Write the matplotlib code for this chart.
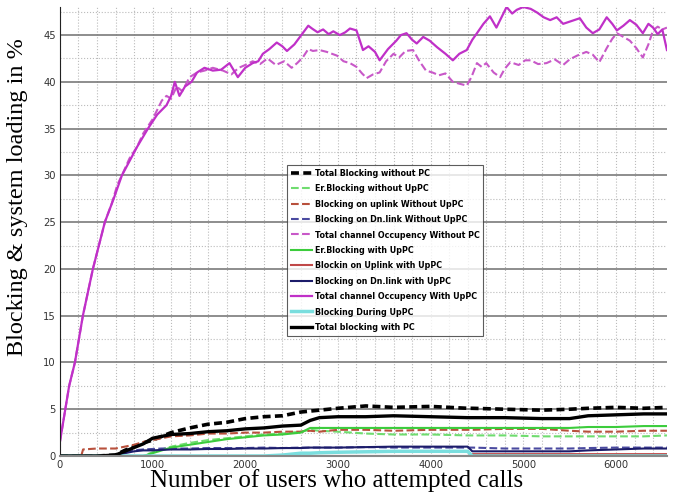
import matplotlib
matplotlib.use("Agg")
import matplotlib.pyplot as plt
from matplotlib.ticker import MultipleLocator

# total channel occupancy, with UpPC (solid) and without PC (dashed)
x_occ_w = [0, 50, 100, 162, 248, 356, 485, 580, 669, 750, 830, 950, 1050, 1150, 1200, 1240, 1290,
           1350, 1420, 1480, 1560, 1650, 1740, 1830, 1920, 2000, 2080, 2140, 2190, 2260, 2340, 2400,
           2450, 2530, 2620, 2680, 2720, 2780, 2840, 2900, 2950, 3020, 3080, 3130, 3200, 3270, 3330,
           3400, 3450, 3540, 3630, 3680, 3740, 3800, 3850, 3920, 3990, 4070, 4160, 4240, 4310, 4390,
           4450, 4500, 4570, 4640, 4710, 4770, 4820, 4880, 4930, 5000, 5080, 5150, 5220, 5290, 5360,
           5430, 5520, 5610, 5680, 5750, 5820, 5900, 5960, 6010, 6080, 6150, 6220, 6290, 6350, 6400,
           6450, 6500, 6550]
occ_w = [1.5, 4.5, 7.5, 10, 15, 20, 25, 27.5, 30, 31.5, 33, 35, 36.5, 37.5, 38.5, 40, 38.5,
         39.5, 40, 41, 41.5, 41.2, 41.3, 42, 40.5, 41.5, 42, 42.2, 43, 43.5, 44.2, 43.8,
         43.3, 44, 45.2, 46, 45.7, 45.3, 45.6, 45.1, 45.4, 45, 45.3, 45.7, 45.5, 43.4, 43.8,
         43.2, 42.3, 43.5, 44.4, 45, 45.2, 44.5, 44.1, 44.8, 44.4, 43.7, 43, 42.3, 43, 43.4,
         44.5, 45.2, 46.2, 47, 45.8, 47, 48, 47.3, 47.7, 48, 47.8, 47.4, 46.9, 46.6, 46.9,
         46.2, 46.5, 46.8, 45.8, 45.2, 45.6, 46.9, 46.2, 45.5, 46, 46.6, 46.1, 45.2, 46.2, 45.8,
         45.1, 45.6, 43.4]

x_occ_wo = [0, 50, 100, 162, 248, 356, 485, 560, 620, 669, 750, 830, 900, 1000, 1100, 1150, 1200,
            1260, 1320, 1400, 1480, 1560, 1650, 1760, 1850, 1930, 2000, 2080, 2160, 2240, 2330, 2420,
            2500, 2560, 2620, 2680, 2730, 2800, 2880, 2990, 3060, 3130, 3200, 3260, 3310, 3380, 3450,
            3520, 3600, 3660, 3730, 3810, 3880, 3950, 4020, 4090, 4160, 4240, 4310, 4390, 4440, 4500,
            4550, 4600, 4680, 4750, 4800, 4860, 4950, 5020, 5080, 5160, 5250, 5340, 5430, 5500, 5580,
            5680, 5750, 5820, 5900, 5960, 6010, 6080, 6150, 6220, 6290, 6350, 6400, 6450, 6500, 6550]
occ_wo = [1.5, 4.5, 7.5, 10, 15, 20, 25, 27, 29, 30, 31.8, 33, 34.5, 36, 38, 38.5, 38.2,
          39.5, 39, 40.5, 41, 41.2, 41.5, 41.2, 40.8, 41.5, 41.8, 42.2, 41.9, 42.5, 41.8, 42.2,
          41.5, 42, 42.6, 43.5, 43.3, 43.4, 43.2, 42.8, 42.2, 42, 41.6, 40.9, 40.4, 40.8, 41,
          42.2, 43, 42.6, 43.3, 43.4, 42.2, 41.2, 41, 40.7, 40.9, 40, 39.8, 39.6, 40.5, 42,
          41.6, 42, 41, 40.5, 41.4, 42.1, 41.8, 42.3, 42.3, 41.9, 42, 42.4, 41.8, 42.4, 42.8,
          43.2, 42.9, 42.1, 43.6, 44.6, 45.2, 44.8, 44.4, 43.6, 42.6, 44, 45.5, 45.9, 45.6, 45.8]

# blocking curves (low values)
x_blk = [0, 230, 250, 400, 600, 700, 800, 900, 1000, 1100, 1200, 1400, 1600, 1800, 2000, 2200, 2400,
         2600, 2700, 2800, 3000, 3300, 3600, 4000, 4400, 4450, 4800, 5200, 5500, 5700, 6000, 6300, 6550]
tot_wo_pc = [0, 0, 0, 0, 0.1, 0.6, 1.0, 1.4, 1.7, 2.1, 2.5, 3.0, 3.4, 3.6, 4.0, 4.2, 4.3,
             4.7, 4.8, 4.9, 5.1, 5.35, 5.2, 5.3, 5.1, 5.1, 5.0, 4.9, 5.0, 5.1, 5.2, 5.1, 5.2]
er_wo = [0, 0, 0, 0, 0, 0, 0, 0, 0.4, 0.7, 1.0, 1.4, 1.7, 1.9, 2.1, 2.3, 2.4,
         2.6, 2.8, 2.7, 2.6, 2.4, 2.3, 2.3, 2.2, 2.2, 2.2, 2.1, 2.1, 2.1, 2.1, 2.1, 2.2]
ul_wo = [0, 0, 0.7, 0.8, 0.8, 1.0, 1.2, 1.5, 1.7, 1.9, 2.1, 2.2, 2.4, 2.4, 2.5, 2.5, 2.6,
         2.6, 2.7, 2.6, 2.8, 2.8, 2.7, 2.8, 2.8, 2.8, 2.9, 2.9, 2.7, 2.6, 2.6, 2.7, 2.7]
dl_wo = [0, 0, 0, 0, 0, 0.4, 0.6, 0.7, 0.75, 0.8, 0.8, 0.8, 0.85, 0.85, 0.85, 0.9, 0.85,
         0.9, 0.9, 0.9, 0.9, 0.95, 0.9, 0.9, 0.9, 0.9, 0.8, 0.8, 0.8, 0.85, 0.9, 0.9, 0.9]
er_w = [0, 0, 0, 0, 0, 0, 0, 0, 0.3, 0.6, 0.9, 1.2, 1.5, 1.8, 2.0, 2.2, 2.3,
        2.5, 3.0, 3.0, 3.0, 3.0, 3.0, 3.0, 3.0, 3.0, 3.0, 3.0, 3.0, 3.1, 3.1, 3.2, 3.2]
ul_w = [0, 0, 0, 0, 0, 0, 0, 0, 0, 0, 0, 0, 0, 0, 0, 0, 0,
        0, 0, 0, 0, 0, 0, 0, 0, 0.2, 0.2, 0.2, 0.2, 0.2, 0.2, 0.2, 0.2]
dl_w = [0, 0, 0, 0, 0, 0.3, 0.5, 0.6, 0.6, 0.65, 0.7, 0.7, 0.75, 0.75, 0.8, 0.8, 0.85,
        0.85, 0.9, 0.9, 0.9, 0.95, 1.0, 1.0, 1.0, 0.5, 0.5, 0.5, 0.5, 0.6, 0.7, 0.8, 0.8]
during = [0, 0, 0, 0, 0, 0, 0, 0, 0, 0, 0, 0, 0, 0, 0, 0, 0.1,
          0.3, 0.3, 0.35, 0.4, 0.45, 0.5, 0.5, 0.5, 0, 0, 0, 0, 0, 0, 0, 0]
tot_w_pc = [0, 0, 0, 0, 0.1, 0.5, 0.9, 1.3, 1.9, 2.1, 2.3, 2.4, 2.6, 2.7, 2.9, 3.0, 3.2,
            3.3, 3.8, 4.1, 4.2, 4.2, 4.3, 4.2, 4.1, 4.1, 4.1, 4.0, 4.0, 4.3, 4.4, 4.5, 4.5]

serif = ['Liberation Serif', 'DejaVu Serif']

fig = plt.figure(figsize=(6.73, 5.0), dpi=100)
ax = fig.add_axes([0.089, 0.088, 0.902, 0.898])

ax.plot(x_blk, tot_wo_pc, color='black', ls=(0, (2.2, 1.2)), lw=2.6, label='Total Blocking without PC')
ax.plot(x_blk, er_wo, color='#6fdc6f', ls='--', lw=1.5, label='Er.Blocking without UpPC')
ax.plot(x_blk, ul_wo, color='#b8503c', ls='--', lw=1.5, label='Blocking on uplink Without UpPC')
ax.plot(x_blk, dl_wo, color='#4a4aa0', ls='--', lw=1.5, label='Blocking on Dn.link Without UpPC')
ax.plot(x_occ_wo, occ_wo, color='#c858c8', ls='--', lw=1.5, label='Total channel Occupency Without PC')
ax.plot(x_blk, er_w, color='#3ccc3c', lw=1.5, label='Er.Blocking with UpPC')
ax.plot(x_blk, ul_w, color='#c04848', lw=1.5, label='Blockin on Uplink with UpPC')
ax.plot(x_blk, dl_w, color='#1c1c6a', lw=1.5, label='Blocking on Dn.link with UpPC')
ax.plot(x_occ_w, occ_w, color='#c030c8', lw=1.6, label='Total channel Occupency With UpPC')
ax.plot(x_blk, during, color='#7adede', lw=2.5, label='Blocking During UpPC')
ax.plot(x_blk, tot_w_pc, color='black', lw=2.4, label='Total blocking with PC')

ax.set_xlim(0, 6550)
ax.set_ylim(0, 48)
ax.xaxis.set_major_locator(MultipleLocator(1000))
ax.xaxis.set_minor_locator(MultipleLocator(200))
ax.yaxis.set_major_locator(MultipleLocator(5))
ax.yaxis.set_minor_locator(MultipleLocator(2.5))
ax.grid(True, which='major', axis='y', color='#7a7a7a', lw=1.2, ls='-')
ax.grid(True, which='minor', axis='y', color='#bbbbbb', lw=0.8, ls=':')
ax.grid(True, which='both', axis='x', color='#bbbbbb', lw=0.8, ls=':')
ax.set_axisbelow(True)

ax.tick_params(which='both', length=0, labelsize=8, labelcolor='#333333', pad=3)
for lbl in ax.get_xticklabels() + ax.get_yticklabels():
    lbl.set_fontstretch('condensed')
for s in ['top', 'right']:
    ax.spines[s].set_visible(False)
ax.spines['left'].set_color('#222222')
ax.spines['bottom'].set_color('#888888')
ax.spines['bottom'].set_linewidth(1.5)

ax.set_xlabel('Number of users who attempted calls', family=serif, fontsize=18)
ax.xaxis.set_label_coords(0.456, -0.03)
ax.set_ylabel('Blocking & system loading in %', family=serif, fontsize=17.5)
ax.yaxis.set_label_coords(-0.052, 0.577)

leg = ax.legend(loc='upper left', bbox_to_anchor=(0.367, 0.657), frameon=True, fancybox=False,
                handlelength=2.4, handletextpad=0.3, labelspacing=0.72, borderpad=0.4,
                prop={'weight': 'bold', 'size': 6.4, 'stretch': 'condensed'})
leg.get_frame().set_edgecolor('#333333')
leg.get_frame().set_linewidth(0.8)

fig.savefig('out.png', dpi=100)
